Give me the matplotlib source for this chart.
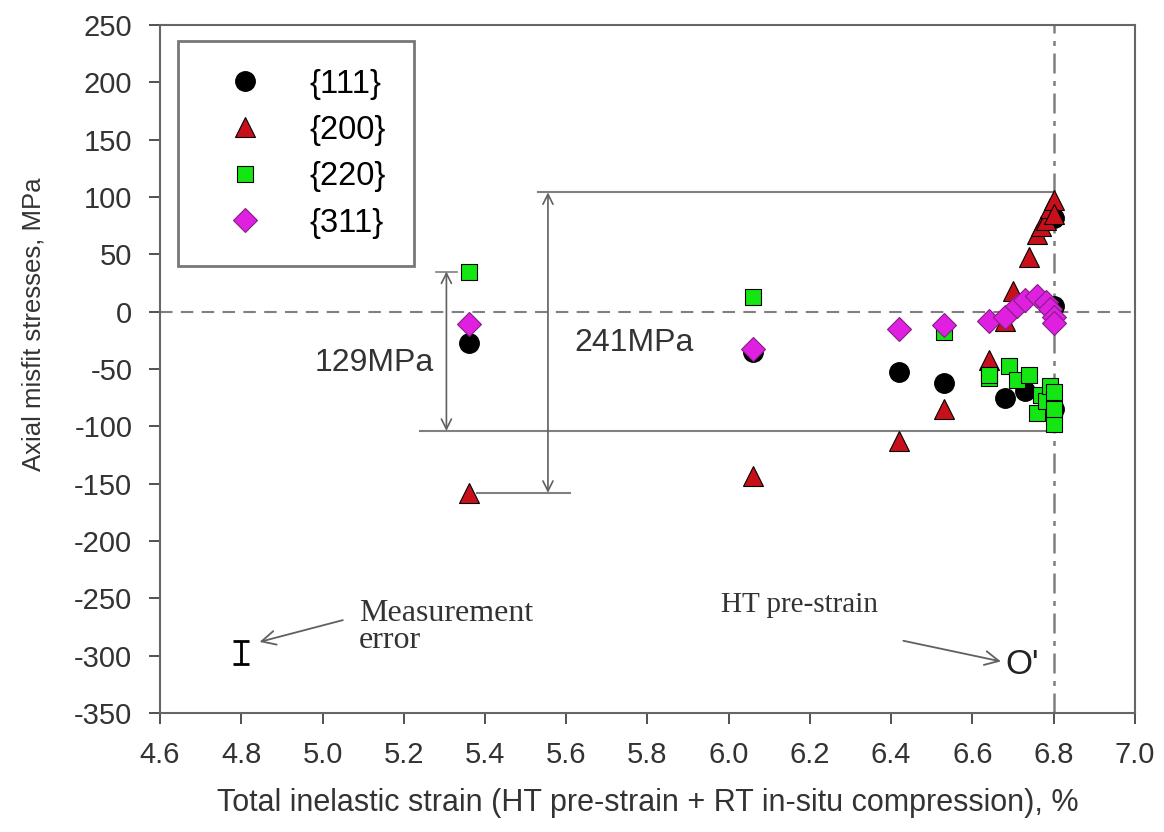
"""
Axial misfit stresses vs total inelastic strain — per reflection family.
"""
import matplotlib
matplotlib.use("Agg")
import matplotlib.pyplot as plt

plt.rcParams["font.family"] = ["Liberation Sans", "DejaVu Sans"]
plt.rcParams["axes.unicode_minus"] = False

# --- data ---
x111 = [5.36, 6.06, 6.42, 6.53, 6.68, 6.73, 6.80, 6.80, 6.80]
y111 = [-27, -35, -53, -62, -75, -69, -85, 82, 5]

x200 = [5.36, 6.06, 6.42, 6.53, 6.64, 6.68, 6.70, 6.74, 6.76, 6.77, 6.78, 6.79, 6.80, 6.80]
y200 = [-158, -143, -113, -85, -42, -8, 18, 48, 68, 75, 80, 90, 97, 85]

x220 = [5.36, 6.06, 6.53, 6.64, 6.64, 6.69, 6.71, 6.74, 6.76, 6.77, 6.78, 6.79, 6.80, 6.80, 6.80]
y220 = [35, 13, -18, -58, -55, -47, -60, -55, -88, -73, -78, -65, -70, -98, -85]

x311 = [5.36, 6.06, 6.42, 6.53, 6.64, 6.68, 6.71, 6.73, 6.76, 6.78, 6.79, 6.80, 6.80]
y311 = [-11, -33, -15, -12, -8, -5, 5, 10, 14, 8, 2, -5, -10]

labels = ["{111}", "{200}", "{220}", "{311}"]

xticks = [4.6 + 0.2 * i for i in range(13)]
yticks = list(range(-350, 251, 50))

# annotation geometry (data coords)
HT_STRAIN = 6.80
UPPER_LVL, LOWER_LVL, MIN200 = 104, -104, -158
ERR_X, ERR_Y, ERR_HALF = 4.8, -297, 10

fig = plt.figure(figsize=(11.64, 8.32), dpi=100)
ax = fig.add_axes([0.1375, 0.143, 0.8375, 0.827])

grey = "#808080"
ax.axhline(0, color=grey, ls=(0, (6, 4)), lw=1.5, zorder=1)
ax.axvline(HT_STRAIN, color=grey, ls=(0, (8, 3, 2, 3)), lw=1.8, zorder=1)

# reference levels
ax.plot([5.53, HT_STRAIN], [UPPER_LVL, UPPER_LVL], color=grey, lw=1.5, zorder=1)
ax.plot([5.24, HT_STRAIN], [LOWER_LVL, LOWER_LVL], color=grey, lw=1.5, zorder=1)
ax.plot([5.38, 5.61], [MIN200, MIN200], color=grey, lw=1.5, zorder=1)
ax.plot([5.28, 5.33], [35, 35], color=grey, lw=1.2, zorder=1)

arr = dict(arrowstyle="<->", color="#606060", lw=1.2, mutation_scale=18, shrinkA=0, shrinkB=0)
ax.annotate("", xy=(5.305, 35), xytext=(5.305, LOWER_LVL), arrowprops=arr)
ax.annotate("", xy=(5.555, UPPER_LVL), xytext=(5.555, MIN200), arrowprops=arr)
ax.text(5.275, -45, "129MPa", fontsize=23, ha="right", va="center", color="#333333")
ax.text(5.62, -27, "241MPa", fontsize=23, ha="left", va="center", color="#333333")

ms = 14
ax.plot(x111, y111, "o", ms=ms, color="black", mec="black", ls="none", label=labels[0], zorder=3)
ax.plot(x200, y200, "^", ms=ms, color="#c8101a", mec="black", mew=0.8, ls="none", label=labels[1], zorder=3)
ax.plot(x220, y220, "s", ms=12, color="#14e614", mec="black", mew=0.8, ls="none", label=labels[2], zorder=3)
ax.plot(x311, y311, "D", ms=12, color="#e020e0", mec="#802080", mew=0.8, ls="none", label=labels[3], zorder=3)

# measurement error bar
ax.errorbar([ERR_X], [ERR_Y], yerr=[ERR_HALF], fmt="none", ecolor="black",
            elinewidth=2, capsize=6, capthick=2)
serif = ["Liberation Serif", "DejaVu Serif"]
ax.text(5.09, -275, "Measurement\nerror", fontsize=23, family=serif, color="#333333",
        va="center", ha="left", linespacing=0.9)
ax.annotate("", xy=(4.845, -288), xytext=(5.05, -269),
            arrowprops=dict(arrowstyle="->", color="#606060", lw=1.3, mutation_scale=25,
                            shrinkA=0, shrinkB=0))
ax.text(5.98, -256, "HT pre-strain", fontsize=21, family=serif, color="#333333",
        va="center", ha="left")
ax.annotate("", xy=(6.67, -305), xytext=(6.43, -287),
            arrowprops=dict(arrowstyle="->", color="#606060", lw=1.3, mutation_scale=25,
                            shrinkA=0, shrinkB=0))
ax.text(6.68, -308, "O'", fontsize=25, ha="left", va="center", color="#222222")

ax.set_xlim(4.6, 7.0)
ax.set_ylim(-350, 250)
ax.set_xticks(xticks)
ax.set_yticks(yticks)
ax.set_xticklabels([f"{v:.1f}" for v in xticks])
ax.tick_params(direction="out", length=8, width=1.2, labelsize=21, colors="#333333", pad=12)
for sp in ax.spines.values():
    sp.set_color("#666666")
    sp.set_linewidth(1.5)

ax.set_xlabel("Total inelastic strain (HT pre-strain + RT in-situ compression), %",
              fontsize=22, color="#333333", labelpad=14)
ax.set_ylabel("Axial misfit stresses, MPa", fontsize=18.5, color="#333333")
ax.yaxis.set_label_coords(-0.118, 0.565)

leg = ax.legend(loc="upper left", bbox_to_anchor=(0.018, 0.977), fontsize=23.5,
                frameon=True, fancybox=False, borderpad=0.85, labelspacing=0.47,
                handletextpad=0.8, borderaxespad=0, handlelength=2.4)
leg.get_frame().set_edgecolor("#555555")
leg.get_frame().set_linewidth(2)

fig.savefig("out.png", dpi=100)
